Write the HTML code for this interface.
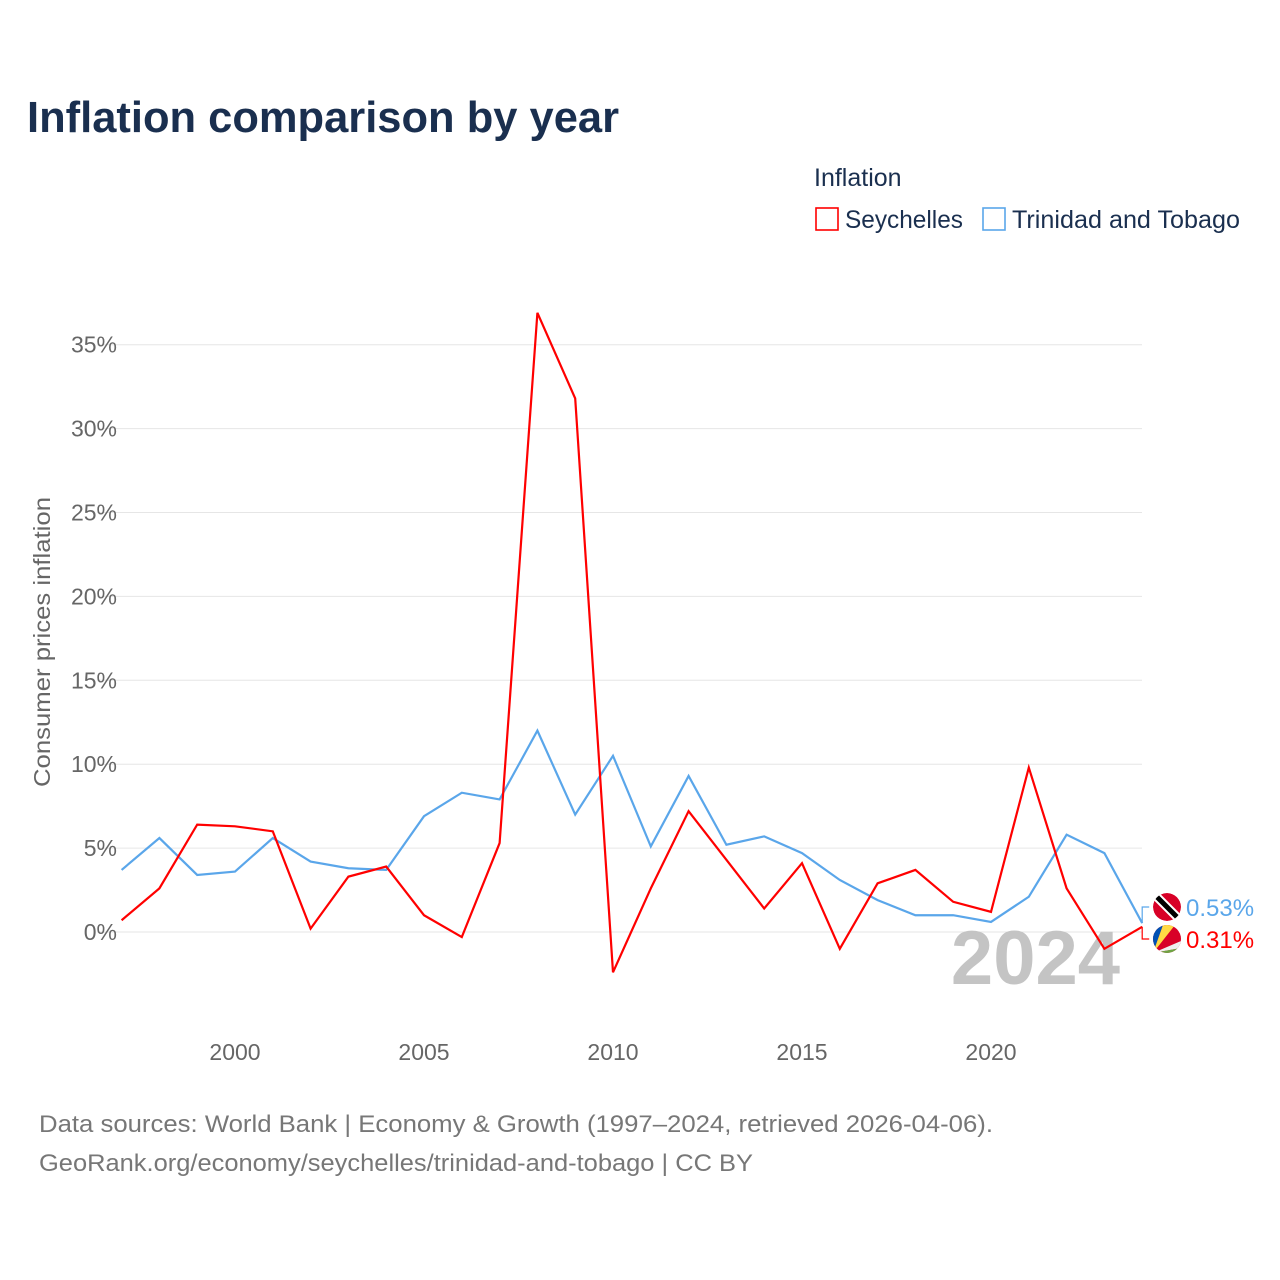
<!DOCTYPE html>
<html><head><meta charset="utf-8"><style>
body{margin:0;background:#fff;font-family:"Liberation Sans",sans-serif}
svg{display:block}
</style></head><body>
<svg id="chart" width="1280" height="1280" xmlns="http://www.w3.org/2000/svg">
<rect width="1280" height="1280" fill="#fff"/>
<text x="27" y="132" font-size="44" font-weight="bold" fill="#1a2f4f" textLength="592" lengthAdjust="spacingAndGlyphs">Inflation comparison by year</text>
<text x="814" y="186" font-size="25" fill="#1a2f4f">Inflation</text>
<g><rect x="816" y="208" width="22" height="22" fill="none" stroke="#f00" stroke-width="1.6"/><text x="845" y="228" font-size="25" fill="#1a2f4f" textLength="118" lengthAdjust="spacingAndGlyphs">Seychelles</text></g>
<g><rect x="983" y="208" width="22" height="22" fill="none" stroke="#5aa6ea" stroke-width="1.6"/><text x="1012" y="228" font-size="25" fill="#1a2f4f" textLength="228" lengthAdjust="spacingAndGlyphs">Trinidad and Tobago</text></g>
<text transform="translate(50,642) rotate(-90)" text-anchor="middle" font-size="23" fill="#666" textLength="290" lengthAdjust="spacingAndGlyphs">Consumer prices inflation</text>
<g id="grid"></g><g id="xt"></g>
<text x="1120" y="984" text-anchor="end" font-size="76" font-weight="bold" fill="#c4c4c4">2024</text>
<g id="lines"></g><g id="ends"></g>
<text x="39" y="1132" font-size="24" fill="#777" textLength="954" lengthAdjust="spacingAndGlyphs">Data sources: World Bank | Economy &amp; Growth (1997–2024, retrieved 2026-04-06).</text>
<text x="39" y="1171" font-size="24" fill="#777" textLength="714" lengthAdjust="spacingAndGlyphs">GeoRank.org/economy/seychelles/trinidad-and-tobago | CC BY</text>
</svg>
<script>
const years=[1997,1998,1999,2000,2001,2002,2003,2004,2005,2006,2007,2008,2009,2010,2011,2012,2013,2014,2015,2016,2017,2018,2019,2020,2021,2022,2023,2024];
const seychelles=[0.7,2.6,6.4,6.3,6.0,0.2,3.3,3.9,1.0,-0.3,5.3,36.9,31.8,-2.4,2.6,7.2,4.3,1.4,4.1,-1.0,2.9,3.7,1.8,1.2,9.8,2.6,-1.0,0.31];
const trinidad=[3.7,5.6,3.4,3.6,5.6,4.2,3.8,3.7,6.9,8.3,7.9,12.0,7.0,10.5,5.1,9.3,5.2,5.7,4.7,3.1,1.9,1.0,1.0,0.6,2.1,5.8,4.7,0.53];
const yTicks=[0,5,10,15,20,25,30,35];
const xTicks=[2000,2005,2010,2015,2020];
const NS="http://www.w3.org/2000/svg";
const X=v=>121.6+(v-1997)*37.8, Y=v=>932-v*16.78;
function mk(t,a,p){const e=document.createElementNS(NS,t);for(const k in a)e.setAttribute(k,a[k]);p.appendChild(e);return e;}
const g=document.getElementById('grid');
yTicks.forEach(t=>{
 const l=mk('line',{x1:97,x2:1142,y1:Y(t),y2:Y(t),stroke:'#e6e6e6','stroke-width':1},g);
 
 
 const tx=mk('text',{x:117,y:Y(t)+8,'text-anchor':'end','font-size':23,fill:'#666'},g);tx.textContent=t+'%';
 
 
});
const xt=document.getElementById('xt');
xTicks.forEach(t=>{
 const tx=mk('text',{x:X(t),y:1060,'text-anchor':'middle','font-size':23,fill:'#666'},xt);tx.textContent=t;
 
 
});
const L=document.getElementById('lines');
function line(vals,c,name){
 const p=mk('polyline',{points:vals.map((v,i)=>X(years[i])+','+Y(v)).join(' '),fill:'none',stroke:c,'stroke-width':2.2,'stroke-linejoin':'miter'},L);
 
 
}
line(trinidad,'#5aa6ea','trinidad-line');
line(seychelles,'#f00','seychelles-line');
const E=document.getElementById('ends');
const last=years.length-1, xe=X(years[last]);
function endLabel(v,ly,c,name,flag){
 const p=mk('polyline',{points:`${xe},${Y(v)} ${xe},${ly} ${xe+7},${ly}`,fill:'none',stroke:c,'stroke-width':1.2},E);
 
 
 const f=mk('g',{},E);
 
 
 f.innerHTML=flag(1167,ly);
 const t=mk('text',{x:1186,y:ly+9,'font-size':24,fill:c},E);t.textContent=v.toFixed(2)+'%';
 
 
}
endLabel(trinidad[last],907,'#5aa6ea','trinidad',(cx,cy)=>`<clipPath id="c1"><circle cx="${cx}" cy="${cy}" r="14"/></clipPath><g clip-path="url(#c1)"><circle cx="${cx}" cy="${cy}" r="14" fill="#d80027"/><line x1="${cx-14}" y1="${cy-14}" x2="${cx+14}" y2="${cy+14}" stroke="#fff" stroke-width="9"/><line x1="${cx-14}" y1="${cy-14}" x2="${cx+14}" y2="${cy+14}" stroke="#000" stroke-width="5"/></g>`);
endLabel(seychelles[last],939,'#f00','seychelles',(cx,cy)=>`<clipPath id="c2"><circle cx="${cx}" cy="${cy}" r="14"/></clipPath><g clip-path="url(#c2)"><rect x="${cx-14}" y="${cy-14}" width="28" height="28" fill="#d80027"/><polygon points="${cx-14},${cy+14} ${cx-14},${cy-14} ${cx-4},${cy-14}" fill="#0052b4"/><polygon points="${cx-14},${cy+14} ${cx-4},${cy-14} ${cx+8},${cy-14}" fill="#ffda44"/><polygon points="${cx-14},${cy+14} ${cx+14},${cy+2} ${cx+14},${cy+9}" fill="#eee"/><polygon points="${cx-14},${cy+14} ${cx+14},${cy+9} ${cx+14},${cy+14}" fill="#6da544"/></g>`);
</script>
</body></html>
